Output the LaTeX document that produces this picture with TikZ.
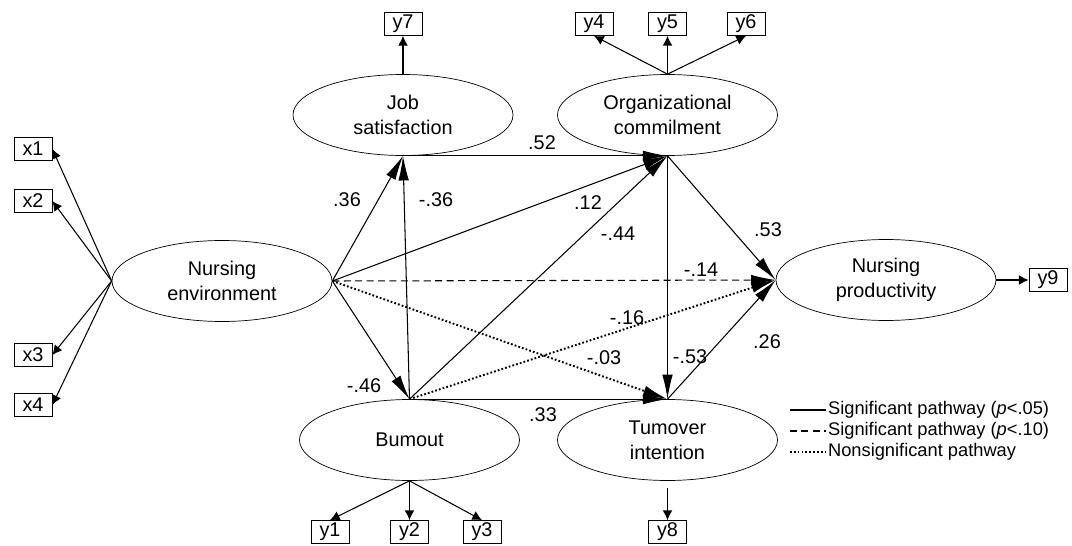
\documentclass[tikz,border=0pt]{standalone}
\usepackage{amsmath}
\usepackage{amssymb}
\usepackage{fontspec}
\setmainfont{Liberation Sans}
\usepackage{tikz}
\usetikzlibrary{arrows.meta, shapes.geometric}

\begin{document}
\begin{tikzpicture}[
		latent/.style={draw, ellipse, minimum width=4.4cm, minimum height=1.62cm, align=center, inner sep=0},
		obs/.style={draw, rectangle, minimum width=0.76cm, minimum height=0.46cm, inner sep=0},
		path/.style={line width=0.6pt, -{Latex[length=14pt, width=6pt]}},
		load/.style={line width=0.6pt, -{Latex[length=5.5pt, width=5.5pt]}},
		sigten/.style={dash pattern=on 4pt off 2.5pt},
		nonsig/.style={dash pattern=on 1pt off 1.2pt, line width=1.1pt},
		legend/.style={font=\fontsize{10.4}{12}\selectfont, anchor=west, inner sep=1pt},
		font=\fontsize{11.3}{14}\selectfont
	]
		% Page size
		\useasboundingbox (0, 0) rectangle (21.44, 10.9);

		% Latent variables
		\node[latent] (env) at (4.44, 5.28) {Nursing\\environment};
		\node[latent] (job) at (8.06, 8.60) {Job\\satisfaction};
		\node[latent] (org) at (13.35, 8.60) {Organizational\\commilment};
		\node[latent] (burn) at (8.19, 2.10) {Bumout};
		\node[latent] (turn) at (13.35, 2.10) {Tumover\\intention};
		\node[latent] (prod) at (17.72, 5.30) {Nursing\\productivity};

		% Observed variables
		\node[obs] (x1) at (0.66, 7.92) {x1};
		\node[obs] (x2) at (0.66, 6.88) {x2};
		\node[obs] (x3) at (0.66, 3.80) {x3};
		\node[obs] (x4) at (0.66, 2.80) {x4};
		\node[obs] (y7) at (8.06, 10.42) {y7};
		\node[obs] (y4) at (11.88, 10.42) {y4};
		\node[obs] (y5) at (13.35, 10.42) {y5};
		\node[obs] (y6) at (14.92, 10.42) {y6};
		\node[obs] (y1) at (6.60, 0.26) {y1};
		\node[obs] (y2) at (8.19, 0.26) {y2};
		\node[obs] (y3) at (9.64, 0.26) {y3};
		\node[obs] (y8) at (13.35, 0.26) {y8};
		\node[obs] (y9) at (20.96, 5.30) {y9};

		% Loadings
		\foreach \b in {x1, x2, x3, x4}
			\draw[load] (env.west) -- (\b.east);
		\draw[load] (job.north) -- (y7.south);
		\foreach \b in {y4, y5, y6}
			\draw[load] (org.north) -- (\b.south);
		\foreach \b in {y1, y2, y3}
			\draw[load] (burn.south) -- (\b.north);
		\draw[load, shorten <=4pt] (turn.south) -- (y8.north);
		\draw[load] (prod.east) -- (y9.west);

		% Paths
		\draw[path] (env.east) -- (job.south);
		\draw[path] (burn.north) -- (job.south);
		\draw[path] (job.south) -- (org.south);
		\draw[path] (env.east) -- (org.south);
		\draw[path] (burn.north) -- (org.south);
		\draw[path] (org.south) -- (prod.west);
		\draw[path, sigten] (env.east) -- (prod.west);
		\draw[path, nonsig] (burn.north) -- (prod.west);
		\draw[path, nonsig] (env.east) -- (turn.north);
		\draw[path] (org.south) -- (turn.north);
		\draw[path] (turn.north) -- (prod.west);
		\draw[path] (env.east) -- (burn.north);
		\draw[path] (burn.north) -- (turn.north);

		% Coefficients
		\node (c1) at (6.94, 6.90) {.36};
		\node (c2) at (8.72, 6.90) {-.36};
		\node (c3) at (10.84, 8.04) {.52};
		\node (c4) at (11.76, 6.84) {.12};
		\node (c5) at (12.36, 6.22) {-.44};
		\node (c6) at (15.36, 6.30) {.53};
		\node (c7) at (14.02, 5.50) {-.14};
		\node (c8) at (12.54, 4.54) {-.16};
		\node (c9) at (12.08, 3.74) {-.03};
		\node (c10) at (13.80, 3.76) {-.53};
		\node (c11) at (15.34, 4.06) {.26};
		\node (c12) at (7.28, 3.18) {-.46};
		\node (c13) at (10.86, 2.60) {.33};

		% Legend
		\coordinate (k1) at (15.80, 2.70);
		\coordinate (k2) at (15.80, 2.28);
		\coordinate (k3) at (15.80, 1.86);
		\node[legend] (t1) at (16.52, 2.70) {Significant pathway (\textit{p}<.05)};
		\node[legend] (t2) at (16.52, 2.28) {Significant pathway (\textit{p}<.10)};
		\node[legend] (t3) at (16.52, 1.86) {Nonsignificant pathway};
		\draw[line width=0.6pt] (k1) -- (t1.west);
		\draw[line width=0.6pt, sigten] (k2) -- (t2.west);
		\draw[nonsig] (k3) -- (t3.west);

	\end{tikzpicture}
\end{document}
